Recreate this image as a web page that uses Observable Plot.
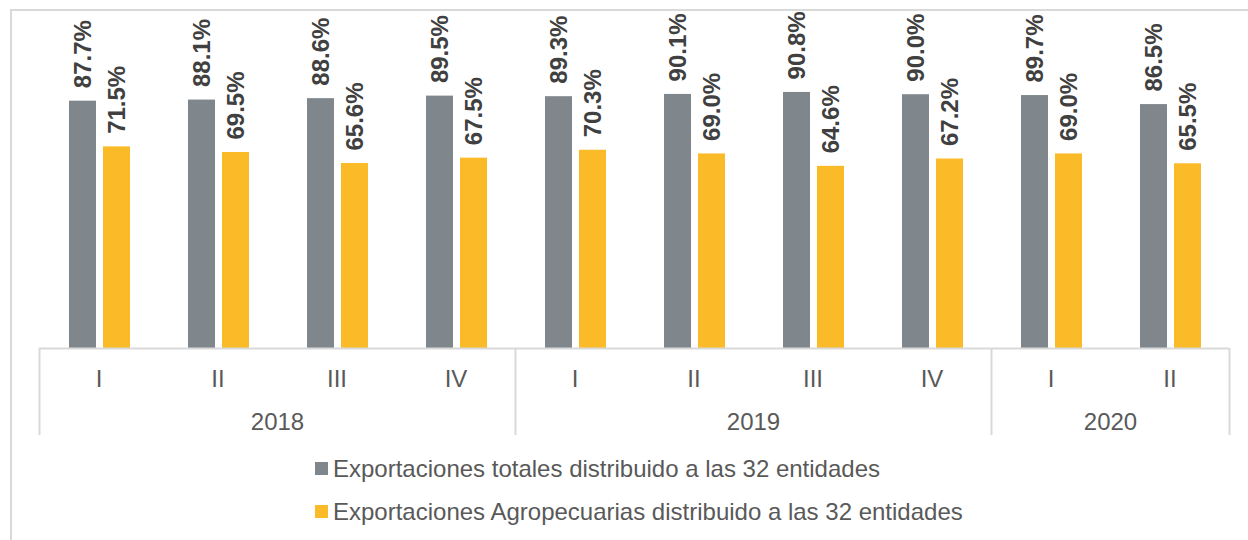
<!DOCTYPE html>
<html>
<head>
<meta charset="utf-8">
<script src="https://cdn.jsdelivr.net/npm/d3@7"></script>
<script src="https://cdn.jsdelivr.net/npm/@observablehq/plot@0.6"></script>
<style>
  html, body { margin: 0; padding: 0; background: #fff; width: 1248px; height: 540px; overflow: hidden; }
  body { position: relative; font-family: "Liberation Sans", Arial, sans-serif; }
  #frame { position: absolute; left: 10px; top: 9px; width: 1400px; height: 700px; border: 2px solid #d9d9d9; box-sizing: border-box; pointer-events: none; }
  #chart { position: absolute; left: 0; top: 0; }
  #legend { position: absolute; left: 315px; top: 447px; color: #595959; font-size: 24px; }
  .row { height: 43px; line-height: 43px; display: flex; align-items: center; white-space: nowrap; }
  .sw { width: 13px; height: 13px; margin-right: 5px; display: inline-block; }
</style>
</head>
<body>
<div id="frame"></div>
<div id="chart"></div>
<div id="legend"></div>
<script>
const years = ["2018","2018","2018","2018","2019","2019","2019","2019","2020","2020"];
const quarters = ["I","II","III","IV","I","II","III","IV","I","II"];
const totales = [87.7, 88.1, 88.6, 89.5, 89.3, 90.1, 90.8, 90.0, 89.7, 86.5];
const agropecuarias = [71.5, 69.5, 65.6, 67.5, 70.3, 69.0, 64.6, 67.2, 69.0, 65.5];
const seriesNames = [
  "Exportaciones totales distribuido a las 32 entidades",
  "Exportaciones Agropecuarias distribuido a las 32 entidades"
];
const seriesColors = ["#7F878C", "#FBBA27"];

const rowsTot = totales.map((v, i) => ({i, serie: seriesNames[0], value: v}));
const rowsAgr = agropecuarias.map((v, i) => ({i, serie: seriesNames[1], value: v}));

// year groups
const yearGroups = [];
years.forEach((y, i) => {
  const last = yearGroups[yearGroups.length - 1];
  if (last && last.year === y) last.end = i + 1;
  else yearGroups.push({year: y, start: i, end: i + 1});
});
const boundaries = [...yearGroups.map(g => g.start), years.length];
const yearCenters = yearGroups.map(g => (g.start + g.end) / 2);
const quarterCenters = quarters.map((q, i) => i + 0.5);

const labelStyle = {rotate: -90, textAnchor: "start", lineAnchor: "middle", dy: -13,
  fontSize: 24, fontWeight: "bold", fill: "#404040", text: d => d.value.toFixed(1) + "%"};

const chart = Plot.plot({
  width: 1248, height: 445,
  marginLeft: 39, marginRight: 19, marginTop: 66, marginBottom: 97,
  x: {domain: [0, years.length], axis: null},
  y: {domain: [0, 100], axis: null},
  color: {domain: seriesNames, range: seriesColors},
  style: {fontFamily: "'Liberation Sans', Arial, sans-serif", overflow: "visible", background: "transparent"},
  marks: [
    Plot.rectY(rowsTot, {x1: "i", x2: d => d.i + 1, y: "value", fill: "serie", insetLeft: 30, insetRight: 62}),
    Plot.rectY(rowsAgr, {x1: "i", x2: d => d.i + 1, y: "value", fill: "serie", insetLeft: 64, insetRight: 28}),
    Plot.text(rowsTot, {x: d => d.i + 0.5, y: "value", dx: -16, ...labelStyle}),
    Plot.text(rowsAgr, {x: d => d.i + 0.5, y: "value", dx: 18, ...labelStyle}),
    Plot.ruleY([0], {stroke: "#d9d9d9", strokeWidth: 2}),
    Plot.ruleX(boundaries, {x: d => d, y1: 0, y2: 0, insetBottom: -87, stroke: "#d9d9d9", strokeWidth: 2}),
    Plot.axisX(quarterCenters, {tickSize: 0, tickPadding: 21, label: null,
      tickFormat: d => quarters[Math.floor(d)], fontSize: 24, fill: "#595959"}),
    Plot.axisX(yearCenters, {tickSize: 0, tickPadding: 64, label: null,
      tickFormat: d => yearGroups[yearCenters.indexOf(d)].year, fontSize: 24, fill: "#595959"})
  ]
});
document.getElementById("chart").appendChild(chart);

const legend = document.getElementById("legend");
seriesNames.forEach((name, k) => {
  const row = document.createElement("div");
  row.className = "row";
  const sw = document.createElement("span");
  sw.className = "sw";
  sw.style.background = seriesColors[k];
  const t = document.createElement("span");
  t.textContent = name;
  row.appendChild(sw);
  row.appendChild(t);
  legend.appendChild(row);
});
</script>
</body>
</html>
